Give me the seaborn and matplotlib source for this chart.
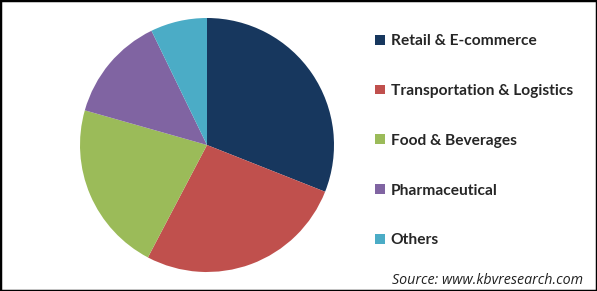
import matplotlib
matplotlib.use("Agg")
import matplotlib.pyplot as plt
import seaborn as sns
from matplotlib.patches import Patch, Rectangle

categories = ["Retail & E-commerce", "Transportation & Logistics", "Food & Beverages",
              "Pharmaceutical", "Others"]
shares = [31.0, 26.7, 21.7, 13.4, 7.2]
colors = ["#17375E", "#C0504D", "#9BBB59", "#8064A2", "#4BACC6"]
source_text = "Source: www.kbvresearch.com"

sns.set_theme(style="white")
plt.rcParams["font.family"] = ["Lato", "DejaVu Sans"]

W, H = 597, 291
fig = plt.figure(figsize=(W / 100, H / 100), dpi=100)
fig.patch.set_facecolor("white")

ax = fig.add_axes([80 / W, 19 / H, 254 / W, 254 / H])
ax.pie(shares, colors=colors, startangle=90, counterclock=False,
       wedgeprops=dict(linewidth=0))
ax.set_xlim(-1, 1)
ax.set_ylim(-1, 1)
ax.set_aspect("equal")

handles = [Patch(facecolor=c, edgecolor="none") for c in colors]
fig.legend(handles, categories, loc="upper left",
           bbox_to_anchor=(369 / W, 1 - 28 / H), frameon=False,
           prop=dict(family=["Lato", "DejaVu Sans"], weight="bold", size=11.2),
           handlelength=0.6, handleheight=0.6, handletextpad=0.4,
           labelspacing=2.3, borderaxespad=0)

fig.text(583 / W, 1 - 280 / H, source_text, ha="right", va="center",
         fontsize=10.3, style="italic", color="#222222",
         family=["Open Sans", "DejaVu Sans"])

fig.patches.append(Rectangle((0, 0), 1, 1, transform=fig.transFigure,
                             fill=False, edgecolor="black", linewidth=2.5))

fig.savefig("out.png", dpi=100, facecolor="white")
